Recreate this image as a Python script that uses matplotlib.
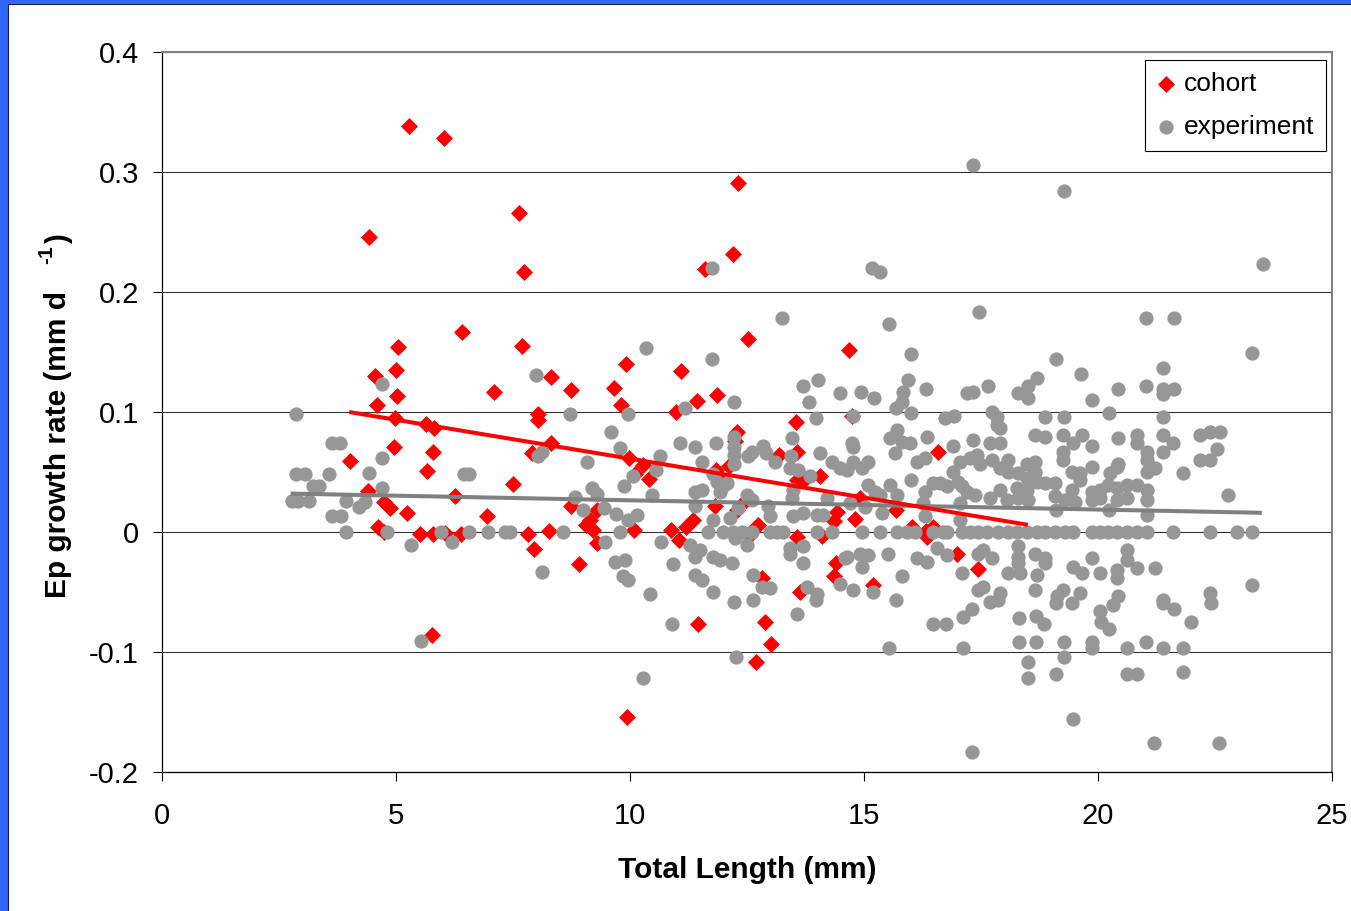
import matplotlib
matplotlib.use("Agg")
import matplotlib.pyplot as plt
from matplotlib.patches import Rectangle
import numpy as np

plt.rcParams['font.family'] = ['Liberation Sans', 'DejaVu Sans']
plt.rcParams['axes.unicode_minus'] = False

# ── Data ──────────────────────────────────────────────────────────────────
cohort_x = [5.28, 6.03, 4.42, 7.63, 7.74, 12.31, 12.20, 11.60, 12.52, 14.68,
            6.40, 5.04, 4.55, 5.00, 4.59, 5.02, 4.98, 4.02, 4.40, 4.62,
            4.74, 4.96, 5.24, 5.51, 5.64, 5.81, 5.66, 5.79, 5.77, 5.79,
            6.26, 6.39, 6.94, 7.09, 7.50, 7.82, 7.69, 7.90, 7.95, 8.04,
            8.04, 8.31, 8.31, 8.27, 8.74, 8.91, 9.06, 9.15, 9.21, 9.30,
            9.66, 9.81, 9.91, 9.98, 9.94, 10.09, 10.28, 10.40, 10.10, 10.88,
            10.98, 11.10, 11.05, 11.20, 11.35, 11.43, 11.45, 11.86, 11.84, 11.88,
            12.12, 12.24, 12.29, 12.29, 12.48, 12.55, 12.67, 12.73, 12.69, 12.82,
            12.88, 13.01, 13.18, 13.55, 13.57, 13.57, 13.63, 13.72, 14.06, 14.10,
            14.36, 14.36, 14.40, 14.80, 14.74, 14.91, 15.19, 15.68, 16.03, 16.32,
            16.58, 16.99, 17.44, 13.57, 14.42, 16.35, 16.47, 11.82, 4.74, 4.87,
            6.05, 8.74, 9.30]
cohort_y = [0.338, 0.328, 0.246, 0.266, 0.217, 0.291, 0.232, 0.219, 0.161, 0.152,
            0.167, 0.154, 0.130, 0.135, 0.106, 0.113, 0.095, 0.059, 0.034, 0.004,
            0.000, 0.071, 0.016, -0.002, 0.090, 0.087, 0.051, 0.067, -0.086, -0.002,
            0.030, -0.002, 0.013, 0.117, 0.040, -0.002, 0.155, 0.066, -0.014, 0.093,
            0.098, 0.074, 0.129, 0.001, 0.118, -0.027, 0.006, 0.010, 0.002, 0.018,
            0.120, 0.106, 0.140, 0.062, -0.154, 0.002, 0.056, 0.044, 0.048, 0.002,
            0.100, 0.134, -0.007, 0.004, 0.010, 0.109, -0.077, 0.114, 0.052, 0.045,
            0.055, 0.076, 0.083, 0.018, 0.027, -0.003, 0.003, 0.006, -0.108, -0.038,
            -0.075, -0.093, 0.064, 0.092, 0.043, -0.004, -0.050, 0.043, 0.047, -0.003,
            0.009, -0.037, -0.026, 0.011, 0.097, 0.028, -0.044, 0.018, 0.004, 0.001,
            0.067, -0.018, -0.031, 0.067, 0.017, -0.004, 0.004, 0.022, 0.025, 0.020,
            -0.001, 0.022, -0.009]

experiment_x = [
    # small fish, left side
    2.86, 2.86, 3.06, 3.57, 3.23, 3.35, 2.78, 2.90, 3.14, 3.93,
    4.21, 4.34, 4.42, 4.70, 4.70, 4.70, 3.63, 3.81, 3.63, 3.82,
    3.93, 4.81, 5.32, 5.53, 5.96, 6.20, 6.46, 6.56, 6.56, 6.97,
    7.33, 7.44, 8.12, 8.57, 8.72, 8.00, 9.60, 9.79, 9.08, 8.83,
    9.00, 9.19, 9.29, 9.45, 9.70, 9.96, 10.15, 9.79, 9.47, 10.66,
    9.68, 9.90, 9.85, 9.96, 10.43, 10.90, 10.28, 9.96, 10.64, 10.06,
    10.56, 10.47, 10.92, 11.07, 8.03, 8.12, 9.87, 10.34,
    # mid sizes, high rates
    17.33, 11.75, 15.17, 15.34, 13.25, 15.53, 17.46, 11.75, 16.00, 13.70,
    14.02, 14.49, 14.94, 15.21, 13.82, 15.94, 15.83, 15.81, 15.68, 16.32,
    17.20, 17.33, 12.22, 11.18, 16.00, 13.97, 14.76, 16.73, 16.92,
    # large sizes, high rates
    19.27, 23.53, 21.03, 21.62, 23.29, 19.10, 21.39, 19.64, 18.70, 18.50,
    18.30, 18.50, 17.65, 20.43, 19.87, 21.03, 21.39, 21.62, 21.39, 17.73,
    17.84, 18.87, 19.27, 20.24, 21.39,
    # mid sizes, 0 - 0.1
    11.39, 11.84, 12.22, 12.22, 12.22, 12.22, 11.54, 12.52, 12.61, 12.84,
    12.91, 13.10, 13.46, 13.44, 13.42, 13.59, 13.85, 14.06, 14.32, 14.49,
    14.64, 14.76, 14.96, 15.09, 14.74, 14.76, 15.56, 15.70, 15.81, 15.98,
    15.66, 16.35, 16.13, 16.30, 16.90, 17.33, 17.41, 17.05, 17.26, 16.90,
    16.00, 15.56, 15.09, 15.24, 15.34, 15.02, 15.38, 15.70, 16.30, 16.47,
    16.62, 16.77, 16.26, 16.30, 17.00, 17.10, 17.20, 17.37, 17.05, 17.05,
    11.77, 11.86, 11.99, 11.92, 12.07, 11.39, 11.54, 11.39, 11.77, 12.14,
    12.31, 12.50, 12.61, 12.95, 12.99, 13.46, 13.48, 13.70, 14.00, 14.12,
    14.21, 14.70, 13.48,
    # zero growth, mid sizes
    11.67, 11.99, 12.20, 12.39, 12.61, 12.99, 13.14, 13.27, 14.00, 14.32,
    14.96, 15.34, 15.70, 15.92, 16.09, 16.47, 16.69, 16.77, 17.09, 17.26,
    17.44,
    # mid sizes, negative
    11.28, 11.50, 11.39, 11.77, 11.92, 12.18, 12.24, 12.50, 13.42, 13.42,
    13.70, 13.70, 14.60, 14.64, 14.91, 15.09, 14.96, 15.51, 16.13, 16.35,
    16.56, 16.77, 17.44, 11.39, 11.54, 11.77, 12.63, 12.82, 12.99, 14.49,
    14.76, 15.19, 15.81, 17.09, 17.44, 13.78, 14.00,
    12.22, 12.63, 13.57, 13.97, 15.68, 12.26, 15.53, 16.47, 16.75, 17.12,
    17.31, 17.12, 17.31,
    # large sizes, 0 - 0.1
    17.84, 17.90, 18.65, 18.87, 19.25, 19.66, 19.87, 19.47, 17.69, 17.90,
    20.43, 20.83, 20.83, 21.39, 21.60, 21.39, 22.18, 22.39, 22.60, 22.54,
    22.18, 22.39, 21.82, 22.78, 19.25, 19.25, 21.05, 21.05, 21.05, 21.22,
    17.48, 17.73, 18.08, 17.90, 18.08, 18.29, 18.48, 18.65, 18.65, 18.48,
    18.70, 18.87, 19.08, 19.44, 19.62, 19.62, 19.87, 20.26, 20.43, 20.40,
    18.27, 18.48, 18.29, 18.50, 17.90, 17.69, 18.05, 19.08, 19.29, 19.50,
    19.44, 19.87, 20.04, 20.21, 20.40, 20.62, 20.83, 21.05, 19.87, 20.04,
    20.40, 20.62, 21.05, 19.10, 20.24, 21.05,
    # zero growth, large sizes
    17.63, 17.86, 18.08, 18.27, 18.48, 18.70, 18.87, 19.08, 19.29, 19.47,
    19.87, 20.04, 20.21, 20.40, 20.62, 20.83, 21.05, 21.60, 22.39, 22.97,
    23.29,
    # large sizes, negative
    18.29, 18.29, 18.29, 18.08, 18.33, 17.54, 17.73, 18.65, 18.87, 18.87,
    18.70, 19.47, 19.66, 19.87, 20.04, 20.40, 20.40, 20.62, 20.62, 20.83,
    21.22, 23.29, 17.54, 17.90, 18.65, 19.12, 19.25, 19.62, 20.43, 21.39,
    22.39,
    17.69, 17.86, 19.10, 19.44, 20.32, 20.04, 21.39, 21.62, 22.41, 18.31,
    18.68, 18.85, 20.06, 20.24, 21.99, 18.31, 18.68, 19.27, 19.87, 19.87,
    21.03, 20.62, 21.39, 21.82, 18.50, 19.27, 18.50, 19.10, 20.62, 20.83,
    21.82, 19.47, 21.20, 22.59,
]
experiment_y = [
    0.098, 0.048, 0.048, 0.048, 0.038, 0.038, 0.026, 0.026, 0.026, 0.026,
    0.021, 0.025, 0.049, 0.062, 0.037, 0.123, 0.074, 0.074, 0.013, 0.013,
    0.000, 0.000, -0.011, -0.091, 0.000, -0.008, 0.048, 0.048, 0.000, 0.000,
    0.000, 0.000, -0.033, 0.000, 0.098, 0.131, 0.083, 0.070, 0.058, 0.029,
    0.018, 0.037, 0.032, 0.020, 0.015, 0.010, 0.014, 0.000, -0.008, -0.008,
    -0.025, -0.023, -0.037, -0.040, -0.052, -0.077, -0.122, 0.098, 0.063, 0.047,
    0.052, 0.031, -0.027, 0.074, 0.063, 0.067, 0.038, 0.153,
    0.306, 0.220, 0.220, 0.217, 0.178, 0.173, 0.183, 0.144, 0.148, 0.122,
    0.127, 0.116, 0.117, 0.112, 0.108, 0.127, 0.117, 0.108, 0.103, 0.119,
    0.116, 0.117, 0.108, 0.103, 0.099, 0.095, 0.097, 0.095, 0.097,
    0.284, 0.223, 0.178, 0.178, 0.149, 0.144, 0.137, 0.132, 0.128, 0.122,
    0.116, 0.112, 0.122, 0.119, 0.110, 0.122, 0.119, 0.119, 0.115, 0.100,
    0.096, 0.096, 0.096, 0.099, 0.096,
    0.071, 0.074, 0.079, 0.071, 0.064, 0.057, 0.058, 0.063, 0.067, 0.072,
    0.066, 0.058, 0.078, 0.063, 0.053, 0.052, 0.047, 0.066, 0.058, 0.053,
    0.052, 0.058, 0.053, 0.058, 0.074, 0.071, 0.078, 0.085, 0.075, 0.074,
    0.066, 0.079, 0.058, 0.062, 0.072, 0.077, 0.064, 0.058, 0.062, 0.050,
    0.043, 0.039, 0.039, 0.033, 0.031, 0.021, 0.016, 0.031, 0.033, 0.041,
    0.041, 0.038, 0.024, 0.013, 0.042, 0.038, 0.033, 0.031, 0.024, 0.010,
    0.048, 0.042, 0.038, 0.033, 0.041, 0.033, 0.035, 0.022, 0.010, 0.012,
    0.020, 0.031, 0.027, 0.022, 0.013, 0.028, 0.013, 0.016, 0.014, 0.014,
    0.028, 0.024, 0.035,
    0.0, 0.0, 0.0, 0.0, 0.0, 0.0, 0.0, 0.0, 0.0, 0.0,
    0.0, 0.0, 0.0, 0.0, 0.0, 0.0, 0.0, 0.0, 0.0, 0.0,
    0.0,
    -0.011, -0.015, -0.021, -0.021, -0.023, -0.026, -0.005, -0.011, -0.013, -0.018,
    -0.012, -0.026, -0.022, -0.021, -0.018, -0.019, -0.029, -0.018, -0.022, -0.025,
    -0.013, -0.019, -0.018, -0.036, -0.040, -0.050, -0.036, -0.046, -0.047, -0.043,
    -0.048, -0.050, -0.037, -0.034, -0.048, -0.046, -0.052,
    -0.058, -0.057, -0.068, -0.057, -0.057, -0.104, -0.097, -0.077, -0.077, -0.071,
    -0.064, -0.097, -0.183,
    0.089, 0.087, 0.081, 0.079, 0.081, 0.081, 0.072, 0.074, 0.074, 0.074,
    0.078, 0.081, 0.074, 0.081, 0.074, 0.067, 0.081, 0.083, 0.083, 0.069,
    0.060, 0.060, 0.049, 0.031, 0.067, 0.060, 0.067, 0.060, 0.050, 0.053,
    0.057, 0.060, 0.060, 0.053, 0.050, 0.049, 0.057, 0.058, 0.050, 0.045,
    0.042, 0.041, 0.041, 0.050, 0.049, 0.043, 0.054, 0.049, 0.057, 0.054,
    0.037, 0.035, 0.028, 0.027, 0.035, 0.028, 0.027, 0.030, 0.027, 0.025,
    0.035, 0.033, 0.035, 0.039, 0.037, 0.039, 0.039, 0.035, 0.027, 0.028,
    0.027, 0.028, 0.027, 0.018, 0.018, 0.014,
    0.0, 0.0, 0.0, 0.0, 0.0, 0.0, 0.0, 0.0, 0.0, 0.0,
    0.0, 0.0, 0.0, 0.0, 0.0, 0.0, 0.0, 0.0, 0.0, 0.0,
    0.0,
    -0.012, -0.021, -0.026, -0.034, -0.034, -0.015, -0.022, -0.018, -0.022, -0.026,
    -0.036, -0.029, -0.034, -0.022, -0.034, -0.032, -0.038, -0.015, -0.023, -0.030,
    -0.030, -0.044, -0.046, -0.051, -0.048, -0.053, -0.048, -0.051, -0.053, -0.057,
    -0.051,
    -0.058, -0.057, -0.059, -0.059, -0.061, -0.066, -0.059, -0.064, -0.059, -0.072,
    -0.070, -0.077, -0.075, -0.081, -0.075, -0.092, -0.092, -0.092, -0.092, -0.097,
    -0.092, -0.097, -0.097, -0.097, -0.108, -0.104, -0.122, -0.118, -0.118, -0.118,
    -0.117, -0.156, -0.176, -0.176,
]

# linear trend lines (end points)
cohort_trend_x = [4.0, 18.5]
cohort_trend_y = [0.100, 0.006]
experiment_trend_x = [2.75, 23.5]
experiment_trend_y = [0.032, 0.016]

xticks = [0, 5, 10, 15, 20, 25]
yticks = [-0.2, -0.1, 0.0, 0.1, 0.2, 0.3, 0.4]
ytick_labels = ['-0.2', '-0.1', '0', '0.1', '0.2', '0.3', '0.4']

# ── Figure ─────────────────────────────────────────────────────────────────
W, H = 1351, 911
fig = plt.figure(figsize=(W / 100, H / 100), dpi=100)
fig.patch.set_facecolor('#3366FF')
fig.patches.append(Rectangle((8 / W, -0.01), 1.02, (H - 4) / H + 0.01,
                             transform=fig.transFigure, facecolor='white',
                             edgecolor='#202020', linewidth=0.8, zorder=-5))

ax = fig.add_axes([162 / W, (H - 772) / H, (1332 - 162) / W, (772 - 52) / H])
ax.set_facecolor('white')

ax.scatter(cohort_x, cohort_y, marker='D', s=75, color='#FF0000',
           linewidths=0, zorder=3, label='cohort')
ax.scatter(experiment_x, experiment_y, marker='o', s=105, color='#969696',
           linewidths=0, zorder=4, label='experiment')
ax.plot(cohort_trend_x, cohort_trend_y, color='#FF0000', lw=2.9, zorder=6,
        solid_capstyle='butt')
ax.plot(experiment_trend_x, experiment_trend_y, color='#808080', lw=2.9,
        zorder=5, solid_capstyle='butt')

ax.set_xlim(0, 25)
ax.set_ylim(-0.2, 0.4)
ax.set_xticks(xticks)
ax.set_xticklabels([str(t) for t in xticks])
ax.set_yticks(yticks)
ax.set_yticklabels(ytick_labels)
ax.tick_params(axis='both', direction='out', length=6.5, width=0.8,
               color='black', labelsize=21)
ax.tick_params(axis='x', pad=15)
ax.tick_params(axis='y', pad=10)

ax.set_axisbelow(True)
ax.yaxis.grid(True, color='#333333', linewidth=0.8)
for side in ('left', 'bottom'):
    ax.spines[side].set_color('black')
    ax.spines[side].set_linewidth(0.9)
for side in ('top', 'right'):
    ax.spines[side].set_color('#808080')
    ax.spines[side].set_linewidth(1.5)

ax.set_xlabel('Total Length (mm)', fontsize=21.5, fontweight='bold',
              labelpad=19)

# y label with superscript built from pieces
fig.text(58 / W, 1 - 598 / H, 'Ep growth rate (mm d', rotation=90,
         rotation_mode='anchor', ha='left', va='center', fontsize=21.5,
         fontweight='bold')
fig.text(47 / W, 1 - 264 / H, '-1', rotation=90, rotation_mode='anchor',
         ha='left', va='center', fontsize=15, fontweight='bold')
fig.text(59 / W, 1 - 244 / H, ')', rotation=90, rotation_mode='anchor',
         ha='left', va='center', fontsize=21.5, fontweight='bold')

leg = ax.legend(loc='upper right', bbox_to_anchor=(1326 / W, 1 - 60 / H),
                bbox_transform=fig.transFigure, borderaxespad=0,
                frameon=True, fancybox=False, edgecolor='black',
                framealpha=1, fontsize=19, handlelength=0.7,
                handletextpad=0.3, labelspacing=0.72, borderpad=0.45,
                scatterpoints=1)
leg.get_frame().set_linewidth(0.8)

fig.savefig('out.png', dpi=100)
